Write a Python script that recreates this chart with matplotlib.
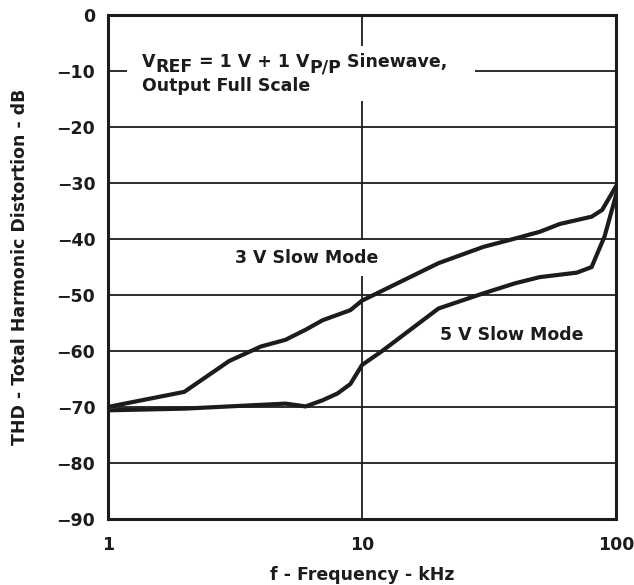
import matplotlib
matplotlib.use("Agg")
import matplotlib.pyplot as plt
from matplotlib.patches import Rectangle
from matplotlib.ticker import FixedLocator, NullLocator

plt.rcParams['font.family'] = ['DejaVu Sans']
plt.rcParams['font.weight'] = 'bold'

# data
f_3v = [1, 2, 3, 4, 5, 6, 7, 9, 10, 20, 30, 40, 50, 60, 80, 88, 100]
thd_3v = [-70.0, -67.3, -61.8, -59.2, -58.0, -56.2, -54.5, -52.7, -51.0,
          -44.3, -41.4, -39.9, -38.7, -37.3, -36.0, -34.8, -30.5]

f_5v = [1, 2, 5, 6, 7, 8, 9, 10, 12, 20, 30, 40, 50, 70, 80, 90, 100]
thd_5v = [-70.6, -70.3, -69.4, -69.9, -68.8, -67.6, -65.9, -62.5, -60.0,
          -52.4, -49.7, -47.9, -46.8, -46.0, -45.0, -39.5, -32.0]

x_ticks = [1, 10, 100]
x_ticklabels = ['1', '10', '100']
y_ticks = list(range(-90, 1, 10))

ink = '#1c1c1c'

fig = plt.figure(figsize=(6.34, 5.85), dpi=100)
ax = fig.add_axes([0.170, 0.113, 0.802, 0.861])

ax.set_xscale('log')
ax.set_xlim(1, 100)
ax.set_ylim(-90, 0)
ax.xaxis.set_major_locator(FixedLocator(x_ticks))
ax.xaxis.set_minor_locator(NullLocator())
ax.set_xticklabels(x_ticklabels)
ax.set_yticks(y_ticks)

ax.grid(True, color=ink, linewidth=1.3, zorder=1)
ax.tick_params(length=0, labelsize=12.5, colors=ink)
ax.tick_params(axis='x', pad=12)
ax.tick_params(axis='y', pad=9)
for s in ax.spines.values():
    s.set_linewidth(2.2)
    s.set_color(ink)

ax.plot(f_3v, thd_3v, color=ink, linewidth=3.0, zorder=3, solid_joinstyle='miter')
ax.plot(f_5v, thd_5v, color=ink, linewidth=3.0, zorder=3, solid_joinstyle='miter')

ax.set_xlabel('f - Frequency - kHz', fontsize=12.5, fontweight='bold', color=ink)
ax.set_ylabel('THD - Total Harmonic Distortion - dB', fontsize=12.5, fontweight='bold', color=ink)
ax.xaxis.set_label_coords(0.5, -0.093)
ax.yaxis.set_label_coords(-0.155, 0.5)

# white box behind the condition note
ax.add_patch(Rectangle((0.037, 0.829), 0.685, 0.109, transform=ax.transAxes,
                       facecolor='white', edgecolor='none', zorder=2))

fs = 12.5
sub = 3.8  # subscript drop, points
t1 = ax.text(0.067, 0.897, 'V', transform=ax.transAxes, fontsize=fs,
             fontweight='bold', va='baseline', zorder=4, color=ink)
t2 = ax.annotate('REF', xy=(1, 0), xycoords=t1, xytext=(0, -sub), textcoords='offset points',
                 fontsize=fs, fontweight='bold', va='bottom', ha='left', zorder=4, color=ink)
t3 = ax.annotate(' = 1 V + 1 V', xy=(1, 0), xycoords=t2, xytext=(0, sub), textcoords='offset points',
                 fontsize=fs, fontweight='bold', va='bottom', ha='left', zorder=4, color=ink)
t4 = ax.annotate('P/P', xy=(1, 0), xycoords=t3, xytext=(0, -sub), textcoords='offset points',
                 fontsize=fs, fontweight='bold', va='bottom', ha='left', zorder=4, color=ink)
t5 = ax.annotate(' Sinewave,', xy=(1, 0), xycoords=t4, xytext=(0, sub), textcoords='offset points',
                 fontsize=fs, fontweight='bold', va='bottom', ha='left', zorder=4, color=ink)
ax.text(0.067, 0.849, 'Output Full Scale', transform=ax.transAxes, fontsize=fs,
        fontweight='bold', va='baseline', zorder=4, color=ink)

ax.text(6.04, -43.4, '3 V Slow Mode', fontsize=12.5, fontweight='bold', ha='center', va='center',
        color=ink, zorder=4,
        bbox=dict(facecolor='white', edgecolor='none', boxstyle='square,pad=0.5'))
ax.text(38.8, -57.1, '5 V Slow Mode', fontsize=12.5, fontweight='bold', ha='center', va='center',
        color=ink, zorder=4,
        bbox=dict(facecolor='white', edgecolor='none', boxstyle='square,pad=0.2'))

fig.savefig('out.png', dpi=100)
